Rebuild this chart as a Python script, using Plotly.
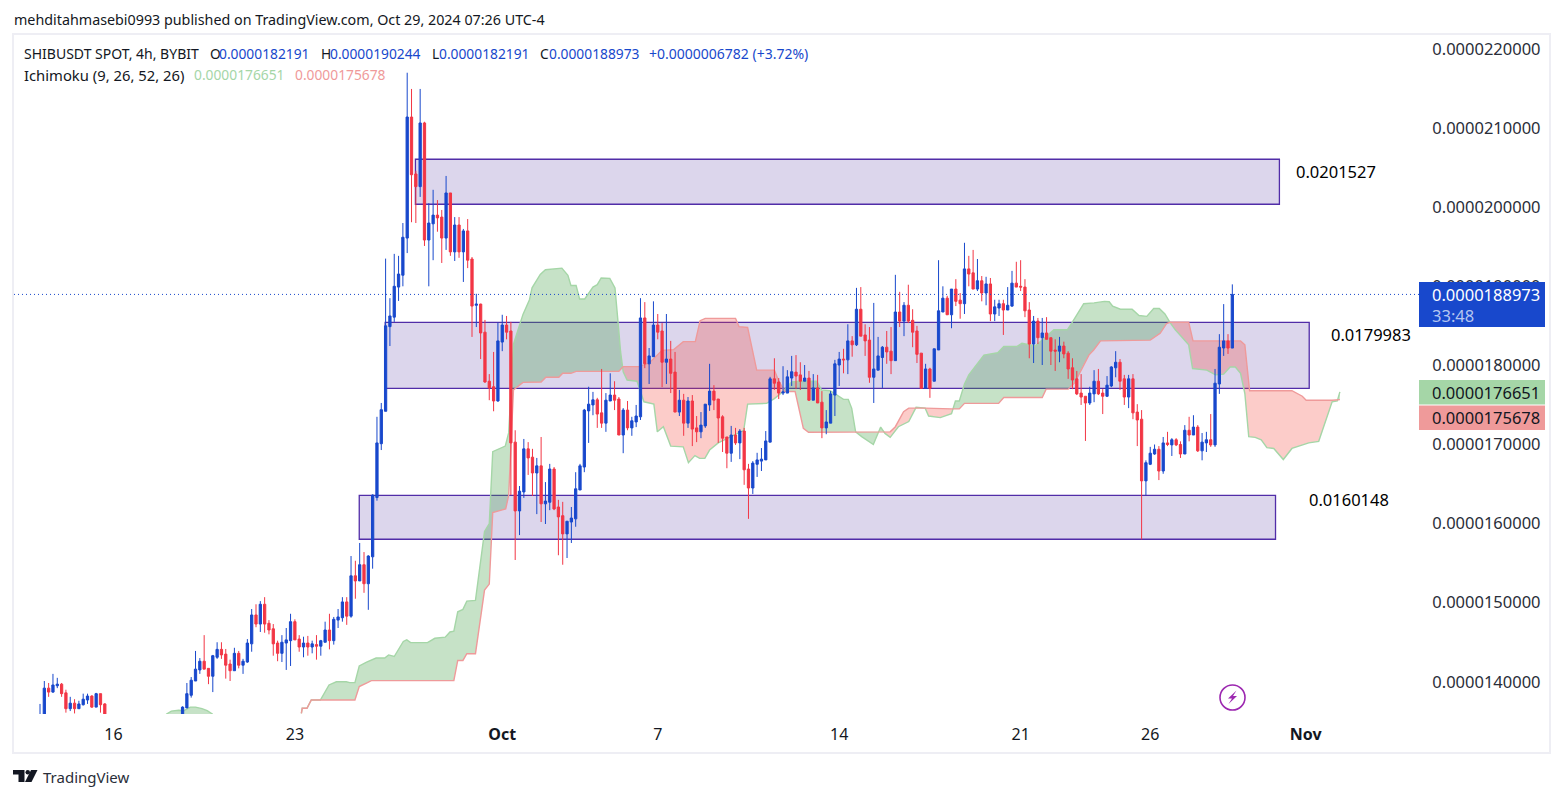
import numpy as np
import plotly.graph_objects as go

# all prices below are in millionths of USDT (18.8973 = 0.0000188973)
hidden = [None] * 17  # these candles sit below the visible price range

candle_open = [13.50, 13.58, 13.92, 13.87, 13.95, 13.97, 13.86, 13.66, 13.73, 13.66, 13.71, 13.77, 13.82, 13.68, 13.85, 13.72] + hidden + [
    13.55, 13.67, 13.83, 14.01, 14.15, 14.26, 14.17, 14.07, 14.31, 14.41,
    14.35, 14.225, 14.14, 14.36, 14.21, 14.25, 14.48, 14.845, 14.73, 14.98,
    14.74, 14.67, 14.49, 14.36, 14.49, 14.52, 14.76, 14.54, 14.44, 14.49,
    14.44, 14.47, 14.45, 14.50, 14.655, 14.52, 14.78, 14.81, 15.01, 14.83,
    15.34, 15.275, 15.48, 15.24, 15.58, 16.33, 17.01, 17.42, 18.49, 18.61,
    18.99, 19.14, 19.61, 21.14, 20.42, 20.26, 21.065, 19.585, 19.79, 19.90,
    19.875, 19.61, 20.18, 19.435, 19.775, 19.435, 19.70, 19.345, 18.76, 18.775,
    18.42, 17.80, 17.73, 17.55, 18.295, 18.51, 18.435, 17.03, 16.16, 16.40,
    16.945, 16.84, 16.64, 16.73, 16.25, 16.27, 16.69, 16.21, 16.10, 15.87,
    16.02, 16.06, 16.425, 16.715, 17.425, 17.50, 17.565, 17.40, 17.27, 17.55,
    17.625, 17.575, 17.12, 17.435, 17.21, 17.285, 17.35, 18.60, 18.02, 18.11,
    18.51, 18.435, 18.04, 18.08, 17.915, 17.41, 17.56, 17.27, 17.55, 17.21,
    17.16, 17.235, 17.50, 17.675, 17.575, 17.35, 17.095, 16.89, 17.12, 17.02,
    17.17, 16.69, 16.45, 16.75, 16.79, 16.805, 17.03, 17.83, 17.79, 17.65,
    17.65, 17.84, 17.915, 17.88, 17.80, 17.84, 17.56, 17.715, 17.535, 17.21,
    17.27, 17.625, 18.005, 18.08, 18.07, 18.31, 18.26, 18.71, 18.385, 18.32,
    17.85, 17.94, 18.10, 18.23, 18.18, 18.06, 18.675, 18.56, 18.76, 18.57,
    18.435, 18.155, 17.71, 17.955, 17.80, 18.195, 18.675, 18.85, 18.64, 18.965,
    18.825, 18.78, 19.22, 19.17, 18.965, 19.07, 18.915, 19.03, 18.65, 18.725,
    18.78, 18.70, 18.75, 19.04, 19.0, 18.99, 18.70, 18.27, 18.56, 18.35,
    18.41, 18.35, 18.195, 18.18, 18.245, 18.155, 17.97, 17.83, 17.65, 17.61,
    17.525, 17.64, 17.80, 17.65, 17.61, 17.74, 17.97, 18.04, 17.83, 17.60,
    17.83, 17.41, 17.32, 16.54, 16.75, 16.88, 16.94, 16.665, 17.02, 16.995,
    17.06, 17.0, 16.88, 17.18, 17.12, 17.22, 16.92, 17.02, 17.06, 16.995,
    17.765, 18.22, 18.31, 18.2191]

candle_high = [13.72, 14.01, 13.985, 14.10, 14.05, 13.985, 13.90, 13.81, 13.78, 13.76, 13.85, 13.85, 13.83, 13.86, 13.85, 13.73] + hidden + [
    13.69, 13.985, 14.06, 14.39, 14.30, 14.59, 14.17, 14.34, 14.50, 14.50,
    14.415, 14.28, 14.43, 14.39, 14.29, 14.54, 14.92, 14.98, 15.02, 15.07,
    14.78, 14.73, 14.52, 14.59, 14.68, 14.86, 14.79, 14.59, 14.57, 14.58,
    14.52, 14.59, 14.53, 14.76, 14.86, 14.82, 14.92, 15.07, 15.07, 15.59,
    15.53, 15.755, 15.64, 15.60, 16.37, 17.35, 17.525, 19.35, 18.85, 19.41,
    19.385, 19.80, 21.70, 21.495, 20.46, 21.495, 21.08, 20.05, 20.22, 20.09,
    19.965, 20.395, 20.18, 19.875, 19.875, 19.725, 19.85, 19.37, 18.905, 18.78,
    18.575, 17.89, 18.17, 18.54, 18.64, 18.625, 18.55, 17.18, 16.475, 17.07,
    17.03, 16.945, 16.83, 17.095, 16.525, 16.755, 16.715, 16.30, 16.275, 16.03,
    16.21, 16.65, 16.755, 17.45, 17.73, 17.665, 17.59, 17.955, 17.65, 17.90,
    17.80, 17.60, 17.46, 17.55, 17.35, 17.50, 18.85, 18.80, 18.22, 18.81,
    18.65, 18.535, 18.65, 18.31, 18.17, 17.69, 17.64, 17.60, 17.625, 17.36,
    17.41, 17.51, 18.02, 17.75, 17.575, 17.37, 17.095, 17.235, 17.21, 17.195,
    17.21, 16.755, 16.79, 16.895, 16.955, 17.17, 17.855, 18.09, 17.84, 17.99,
    17.94, 18.12, 18.13, 18.04, 18.005, 17.93, 17.89, 17.88, 17.675, 17.435,
    17.675, 18.07, 18.17, 18.21, 18.52, 18.37, 18.98, 18.99, 18.52, 18.485,
    18.79, 18.36, 18.245, 18.435, 18.485, 19.145, 18.93, 18.80, 19.02, 18.71,
    18.50, 18.155, 18.02, 17.97, 18.21, 19.33, 19.00, 18.88, 18.965, 19.09,
    18.915, 19.55, 19.385, 19.46, 19.345, 19.13, 19.12, 19.105, 18.83, 18.83,
    18.83, 18.99, 19.195, 19.31, 19.33, 19.09, 18.80, 18.625, 18.60, 18.60,
    18.61, 18.35, 18.33, 18.36, 18.30, 18.18, 18.09, 17.93, 17.89, 17.61,
    17.73, 17.94, 17.955, 17.70, 17.865, 17.99, 18.18, 18.08, 17.88, 17.88,
    17.89, 17.51, 17.435, 16.80, 16.97, 17.0, 16.98, 17.095, 17.16, 17.08,
    17.08, 17.04, 17.245, 17.35, 17.37, 17.245, 17.145, 17.16, 17.385, 17.955,
    18.395, 18.775, 18.395, 19.0244]

candle_low = [13.45, 13.5, 13.81, 13.86, 13.92, 13.81, 13.61, 13.63, 13.60, 13.66, 13.70, 13.72, 13.67, 13.68, 13.61, 13.5] + hidden + [
    13.5, 13.67, 13.80, 14.01, 14.10, 14.16, 13.97, 13.87, 14.29, 14.29,
    14.04, 14.01, 14.14, 14.17, 14.10, 14.24, 14.38, 14.69, 14.63, 14.62,
    14.60, 14.33, 14.26, 14.25, 14.15, 14.20, 14.53, 14.38, 14.31, 14.33,
    14.36, 14.28, 14.33, 14.50, 14.41, 14.47, 14.68, 14.76, 14.72, 14.81,
    15.05, 15.275, 15.125, 14.91, 15.43, 16.29, 16.93, 17.42, 18.245, 18.55,
    18.815, 19.0, 19.42, 19.81, 19.80, 20.13, 19.51, 19.00, 19.33, 19.69,
    19.295, 19.46, 19.385, 19.32, 19.36, 19.055, 19.23, 18.36, 18.485, 18.08,
    17.78, 17.56, 17.42, 17.54, 18.18, 18.33, 16.36, 15.54, 15.855, 16.325,
    16.615, 16.35, 16.12, 16.02, 15.995, 16.17, 16.17, 15.60, 15.48, 15.565,
    15.755, 15.96, 16.425, 16.65, 17.02, 17.37, 17.21, 17.21, 17.16, 17.55,
    17.435, 17.12, 16.89, 17.18, 17.11, 17.22, 17.31, 17.965, 17.765, 18.11,
    18.33, 17.725, 17.765, 17.65, 17.41, 17.36, 17.11, 17.21, 16.98, 17.03,
    17.08, 17.21, 17.425, 17.435, 17.02, 16.905, 16.70, 16.78, 16.995, 16.815,
    16.49, 16.06, 16.375, 16.59, 16.665, 16.805, 17.03, 17.69, 17.575, 17.625,
    17.65, 17.74, 17.70, 17.69, 17.80, 17.55, 17.56, 17.525, 17.08, 17.13,
    17.27, 17.36, 17.74, 17.90, 17.89, 18.11, 18.245, 18.37, 18.12, 17.78,
    17.525, 17.94, 17.715, 18.02, 17.89, 18.06, 18.485, 18.37, 18.535, 18.23,
    18.03, 17.71, 17.71, 17.59, 17.80, 18.195, 18.675, 18.64, 18.47, 18.75,
    18.59, 18.65, 19.0, 18.965, 18.94, 18.81, 18.76, 18.56, 18.56, 18.625,
    18.385, 18.70, 18.74, 18.99, 18.94, 18.61, 18.09, 18.03, 18.27, 18.005,
    18.33, 18.005, 17.93, 18.04, 18.09, 17.83, 17.70, 17.625, 17.50, 17.045,
    17.50, 17.535, 17.625, 17.385, 17.60, 17.725, 17.85, 17.69, 17.50, 17.46,
    17.32, 16.98, 15.80, 16.36, 16.74, 16.87, 16.55, 16.63, 16.98, 16.855,
    16.98, 16.83, 16.88, 17.04, 17.12, 16.905, 16.80, 16.905, 16.97, 16.97,
    17.64, 18.12, 18.145, 18.2191]

candle_close = [13.58, 13.92, 13.87, 13.96, 13.97, 13.85, 13.66, 13.73, 13.66, 13.72, 13.78, 13.82, 13.68, 13.85, 13.71, 13.55] + hidden + [
    13.68, 13.85, 14.02, 14.16, 14.26, 14.16, 14.07, 14.33, 14.41, 14.34,
    14.21, 14.14, 14.36, 14.21, 14.26, 14.49, 14.845, 14.73, 14.98, 14.73,
    14.655, 14.48, 14.36, 14.50, 14.53, 14.76, 14.53, 14.44, 14.49, 14.44,
    14.48, 14.45, 14.52, 14.655, 14.52, 14.79, 14.82, 15.01, 14.83, 15.34,
    15.275, 15.48, 15.24, 15.59, 16.36, 17.02, 17.44, 18.50, 18.625, 19.0,
    19.155, 19.62, 21.14, 20.41, 20.26, 21.065, 19.585, 19.80, 19.90, 19.865,
    19.61, 20.18, 19.435, 19.775, 19.435, 19.70, 19.33, 18.75, 18.775, 18.41,
    17.79, 17.715, 17.55, 18.31, 18.51, 18.42, 17.02, 16.16, 16.41, 16.945,
    16.83, 16.64, 16.73, 16.25, 16.285, 16.69, 16.185, 16.085, 15.87, 16.03,
    16.07, 16.44, 16.73, 17.435, 17.51, 17.565, 17.385, 17.27, 17.56, 17.625,
    17.56, 17.12, 17.435, 17.21, 17.30, 17.36, 18.60, 18.02, 18.12, 18.51,
    18.42, 18.04, 18.08, 17.90, 17.41, 17.56, 17.27, 17.55, 17.195, 17.16,
    17.245, 17.51, 17.675, 17.56, 17.335, 17.08, 16.89, 17.12, 17.02, 17.17,
    16.68, 16.45, 16.765, 16.805, 16.815, 17.045, 17.83, 17.775, 17.65, 17.665,
    17.855, 17.92, 17.865, 17.80, 17.84, 17.56, 17.715, 17.525, 17.21, 17.285,
    17.64, 18.02, 18.08, 18.07, 18.31, 18.26, 18.71, 18.37, 18.31, 17.85,
    17.955, 18.12, 18.23, 18.17, 18.06, 18.675, 18.56, 18.76, 18.56, 18.42,
    18.14, 17.71, 17.955, 17.71, 18.21, 18.69, 18.85, 18.64, 18.965, 18.81,
    18.78, 19.22, 19.155, 18.965, 19.07, 18.915, 19.03, 18.65, 18.74, 18.78,
    18.70, 18.76, 19.04, 18.99, 18.99, 18.69, 18.27, 18.56, 18.35, 18.41,
    18.33, 18.18, 18.18, 18.245, 18.145, 17.955, 17.815, 17.64, 17.60, 17.525,
    17.65, 17.80, 17.64, 17.61, 17.75, 17.98, 18.04, 17.80, 17.60, 17.83,
    17.40, 17.31, 16.54, 16.77, 16.89, 16.94, 16.665, 17.02, 17.0, 17.06,
    16.995, 16.88, 17.18, 17.12, 17.22, 16.92, 17.03, 17.06, 16.995, 17.775,
    18.23, 18.31, 18.2191, 18.8973]

# ichimoku spans, read at the corners of each line (bar number, price)
early_a_bar = [29.2, 30.4, 32.1, 33.3, 34.8, 36.0, 37.5, 38.7, 40.0]
early_a = [13.59, 13.63, 13.64, 13.635, 13.68, 13.68, 13.66, 13.635, 13.59]
early_b_bar = [29.2, 40.0]
early_b = [13.3, 13.3]  # below the visible range

span_a_bar = [60.5, 60.7, 61.8, 62.8, 64.9, 66.9, 68.6, 70.9, 71.7, 72.9, 73.9, 75.6, 77.8, 79.8, 80.7, 82.0, 84.1, 84.9, 85.8, 89.7,
              91.4, 93.8, 94.9, 95.8, 96.7, 97.9, 98.8, 100.8, 102.9, 104.0, 104.8, 107.7, 108.5, 109.6, 111.8, 113.3, 113.9, 115.8, 117.0, 120.8,
              122.2, 122.9, 124.1, 124.9, 126.1, 128.0, 129.0, 129.9, 131.9, 133.1, 133.8, 134.4, 135.0, 135.9, 138.2, 139.8, 142.1, 142.9, 144.3, 146.0,
              148.9, 150.1, 151.6, 152.7, 153.9, 155.0, 157.0, 161.2, 162.9, 163.8, 168.2, 170.0, 171.6, 174.0, 175.9, 179.8, 180.9, 182.9, 186.0, 187.1,
              187.9, 188.8, 190.2, 192.9, 194.6, 195.6, 196.8, 198.7, 201.1, 202.8, 204.9, 205.7, 208.4, 211.0, 211.9, 212.8, 214.0, 215.0, 218.5, 221.7,
              223.1, 226.2, 227.3, 230.4, 234.7, 237.8, 238.9, 241.6, 244.0, 246.4, 247.5, 248.3, 250.1, 252.8, 254.4, 256.2, 257.8, 259.1, 260.4, 261.6,
              262.8, 264.3, 265.9, 266.8, 270.1, 272.1, 274.0, 275.5, 276.7, 277.9, 278.9, 279.8, 281.3, 282.7, 284.0, 285.6, 287.8, 289.8, 293.7, 296.0,
              298.4, 299.1, 300.3, 300.9]
span_a = [13.60, 13.665, 13.665, 13.77, 13.77, 13.96, 14.0, 14.0, 13.99, 13.99, 14.2, 14.25, 14.3, 14.3, 14.34, 14.32, 14.51, 14.53, 14.495, 14.495,
          14.55, 14.565, 14.63, 14.64, 14.885, 14.915, 15.02, 15.03, 15.90, 16.0, 16.91, 16.98, 17.15, 18.27, 18.645, 18.83, 18.98, 19.15, 19.21, 19.23,
          19.14, 19.01, 19.01, 18.84, 18.84, 18.99, 19.02, 19.105, 19.10, 18.98, 18.55, 18.17, 17.92, 17.815, 17.80, 17.54, 17.51, 17.16, 17.225, 16.98,
          16.97, 16.77, 16.86, 16.825, 16.825, 16.93, 17.02, 17.14, 17.18, 17.51, 17.52, 17.58, 17.65, 17.79, 17.80, 17.80, 17.69, 17.68, 17.57, 17.57,
          17.457, 17.16, 17.10, 17.0, 17.22, 17.14, 17.09, 17.225, 17.29, 17.47, 17.46, 17.36, 17.34, 17.39, 17.55, 17.55, 17.765, 17.88, 18.13, 18.16,
          18.24, 18.24, 18.28, 18.245, 18.45, 18.45, 18.54, 18.78, 18.79, 18.81, 18.805, 18.75, 18.71, 18.71, 18.63, 18.62, 18.72, 18.72, 18.65, 18.54,
          18.45, 18.36, 18.26, 17.96, 17.94, 17.88, 17.89, 17.98, 17.98, 17.90, 17.645, 17.10, 17.09, 17.06, 16.96, 16.95, 16.81, 16.95, 17.02, 17.04,
          17.415, 17.54, 17.55, 17.6651]

span_b_bar = [60.5, 60.7, 61.8, 62.8, 72.9, 73.9, 75.8, 76.7, 95.8, 96.7, 97.9, 98.8, 100.8, 102.9, 104.0, 104.8, 106.8, 107.8, 108.5, 109.6,
              111.8, 116.0, 117.1, 120.1, 121.0, 122.9, 124.1, 134.0, 135.0, 138.6, 140.9, 144.0, 146.7, 148.9, 151.7, 152.8, 154.0, 161.0, 161.8, 163.8,
              165.9, 170.0, 170.9, 172.4, 174.8, 176.7, 177.9, 188.8, 196.8, 198.0, 199.9, 201.1, 204.9, 211.0, 212.8, 214.0, 221.9, 223.1, 232.0, 232.9,
              238.0, 239.5, 241.3, 242.8, 243.9, 245.5, 257.0, 259.3, 260.8, 261.6, 265.9, 266.9, 277.9, 278.9, 280.0, 289.8, 292.2, 293.1, 299.1, 300.9]
span_b = [13.60, 13.665, 13.665, 13.77, 13.77, 13.94, 13.99, 14.015, 14.015, 14.27, 14.27, 14.355, 14.355, 15.16, 15.235, 16.14, 16.17, 16.185, 16.36, 17.69,
          17.785, 17.79, 17.85, 17.85, 17.90, 17.90, 17.925, 17.925, 17.985, 17.985, 18.025, 18.19, 18.20, 18.30, 18.30, 18.565, 18.595, 18.595, 18.49, 18.48,
          17.94, 17.94, 17.815, 17.67, 17.67, 17.205, 17.155, 17.16, 17.16, 17.225, 17.415, 17.46, 17.46, 17.45, 17.45, 17.52, 17.52, 17.595, 17.595, 17.70,
          17.70, 17.78, 17.98, 18.13, 18.195, 18.31, 18.32, 18.405, 18.53, 18.545, 18.545, 18.31, 18.31, 18.26, 17.68, 17.68, 17.61, 17.56, 17.56, 17.5678]

# drawn zones: first bar, last bar, low, high, label
zone_start = [86.9, 79.9, 73.9]
zone_end = [286.9, 293.8, 286.0]
zone_low = [20.037, 17.71, 15.802]
zone_high = [20.606, 18.545, 16.358]
zone_labels = ["0.0201527", "0.0179983", "0.0160148"]

price_ticks = [14, 15, 16, 17, 18, 19, 20, 21, 22]
price_tick_labels = ["0.0000140000", "0.0000150000", "0.0000160000", "0.0000170000", "0.0000180000",
                     "0.0000190000", "0.0000200000", "0.0000210000", "0.0000220000"]
date_ticks = [17, 59, 107, 143, 185, 227, 257, 293]
date_tick_labels = ["16", "23", "<b>Oct</b>", "7", "14", "21", "26", "<b>Nov</b>"]

last_price = 18.8973
last_price_label = "0.0000188973"
countdown = "33:48"
span_a_label = "0.0000176651"
span_b_label = "0.0000175678"

BLUE = "#1848CC"
RED = "#F23645"
DARK = "#131722"
FONT = "Noto Sans"

# pixel layout of the page
W, H = 1563, 798
L, R, T, B = 14, 144, 36, 84
BAR0_PX, BAR_PX = 40, 4.32
PX_PER_UNIT = 79.1


def px(x):
    return (x - L) / (W - L - R)


def py(y):
    return 1 - (y - T) / (H - T - B)


def label(x, y, text, color=DARK, size=13.8, anchor="left"):
    return dict(xref="paper", yref="paper", x=px(x), y=py(y), text=text, showarrow=False,
                xanchor=anchor, yanchor="middle", borderpad=0, align="left",
                font=dict(family=FONT, size=size, color=color))


def box(x0, y0, x1, y1, fill, line=None, width=0):
    return dict(type="rect", xref="paper", yref="paper", x0=px(x0), x1=px(x1), y0=py(y0), y1=py(y1),
                fillcolor=fill, line=dict(color=line, width=width), layer="above")


def path(points, fill=None, line=None, width=0):
    d = "M " + " L ".join(f"{px(a)} {py(b)}" for a, b in points) + " Z"
    return dict(type="path", xref="paper", yref="paper", path=d, fillcolor=fill or "rgba(0,0,0,0)",
                line=dict(color=line or "rgba(0,0,0,0)", width=width), layer="above")


def cloud(a_bar, a, b_bar, b):
    # split the area between the spans where they cross, green if A on top
    grid = sorted(set(a_bar) | set(b_bar))
    av = np.interp(grid, a_bar, a)
    bv = np.interp(grid, b_bar, b)
    diff = av - bv
    pieces = []
    xs, ta, tb = [grid[0]], [av[0]], [bv[0]]
    for k in range(len(grid) - 1):
        if diff[k] * diff[k + 1] < 0:
            t = diff[k] / (diff[k] - diff[k + 1])
            xc = grid[k] + t * (grid[k + 1] - grid[k])
            yc = av[k] + t * (av[k + 1] - av[k])
            xs.append(xc), ta.append(yc), tb.append(yc)
            pieces.append((xs, ta, tb))
            xs, ta, tb = [xc], [yc], [yc]
        xs.append(grid[k + 1]), ta.append(av[k + 1]), tb.append(bv[k + 1])
    pieces.append((xs, ta, tb))
    traces = []
    for xs, ta, tb in pieces:
        up = sum(ta) >= sum(tb)
        traces.append(go.Scatter(x=xs + xs[::-1], y=ta + tb[::-1], mode="none", fill="toself",
                                 fillcolor="rgba(67,160,71,0.3)" if up else "rgba(244,67,54,0.27)",
                                 hoverinfo="skip", showlegend=False))
    return traces


fig = go.Figure()

for t in cloud(early_a_bar, early_a, early_b_bar, early_b) + cloud(span_a_bar, span_a, span_b_bar, span_b):
    fig.add_trace(t)
for xs, ys, color in [(early_a_bar, early_a, "#A5D6A7"), (span_a_bar, span_a, "#A5D6A7"), (span_b_bar, span_b, "#EF9A9A")]:
    fig.add_trace(go.Scatter(x=xs, y=ys, mode="lines", line=dict(color=color, width=1.4),
                             hoverinfo="skip", showlegend=False))

# on the overlaid y axis, otherwise plotly draws the cloud over the candles
fig.add_trace(go.Candlestick(
    x=list(range(len(candle_open))), open=candle_open, high=candle_high, low=candle_low, close=candle_close,
    yaxis="y2", whiskerwidth=0, showlegend=False, hoverinfo="skip",
    increasing=dict(line=dict(color=BLUE, width=1), fillcolor=BLUE),
    decreasing=dict(line=dict(color=RED, width=1), fillcolor=RED),
))

bottom = 22 - (H - B - 49) / PX_PER_UNIT
top = 22 + (49 - T) / PX_PER_UNIT
bar_left = (L - BAR0_PX) / BAR_PX
bar_right = (W - R - BAR0_PX) / BAR_PX

shapes = []
for x0, x1, lo, hi in zip(zone_start, zone_end, zone_low, zone_high):
    shapes.append(dict(type="rect", xref="x", yref="y", x0=x0, x1=x1, y0=lo, y1=hi, layer="below",
                       fillcolor="#DCD6EC", line=dict(color="#512DA8", width=1.3)))
shapes.append(dict(type="line", xref="paper", yref="y", x0=0, x1=1, y0=last_price, y1=last_price, layer="above",
                   line=dict(color=BLUE, width=1, dash="1px,3px")))

# outer frame and the price tags
shapes.append(dict(type="rect", xref="paper", yref="paper", x0=px(13), x1=px(1550), y0=py(34), y1=py(753),
                   line=dict(color="#EEEEF4", width=2), layer="above"))
shapes.append(box(1419, 282, 1545, 327, BLUE))
shapes.append(box(1419, 380, 1545, 404.5, "#A5D6A7"))
shapes.append(box(1419, 405.5, 1545, 430, "#EF9A9A"))

# lightning badge
shapes.append(dict(type="circle", xref="paper", yref="paper", x0=px(1220), x1=px(1245), y0=py(685), y1=py(710),
                   line=dict(color="#9C27B0", width=1.6), fillcolor="#FFFFFF", layer="above"))
shapes.append(path([(1236.5, 690.5), (1228, 698.5), (1232, 698.5), (1228.5, 704), (1237, 696), (1233, 696)], fill="#9C27B0"))

# TradingView mark
shapes.append(path([(13, 770), (24.5, 770), (24.5, 782), (18.5, 782), (18.5, 774.5), (13, 774.5)], fill=DARK))
shapes.append(dict(type="circle", xref="paper", yref="paper", x0=px(25.5), x1=px(30), y0=py(770), y1=py(774.5),
                   fillcolor=DARK, line=dict(width=0), layer="above"))
shapes.append(path([(31, 770), (37.5, 770), (31.5, 782), (25, 782)], fill=DARK))

annotations = [
    label(13, 19.5, "mehditahmasebi0993 published on TradingView.com, Oct 29, 2024 07:26 UTC-4", size=14.3),
    label(23, 53.5, "SHIBUSDT SPOT, 4h, BYBIT", size=14),
    label(209, 53.5, "O"), label(218, 53.5, "0.0000182191", BLUE),
    label(320, 53.5, "H"), label(329, 53.5, "0.0000190244", BLUE),
    label(431, 53.5, "L"), label(438, 53.5, "0.0000182191", BLUE),
    label(539, 53.5, "C"), label(548, 53.5, "0.0000188973", BLUE),
    label(648, 53.5, "+0.0000006782 (+3.72%)", BLUE, 14),
    label(23, 74.5, "Ichimoku (9, 26, 52, 26)", size=14.8),
    label(193, 74.5, span_a_label, "#A5D6A7"),
    label(294, 74.5, span_b_label, "#EF9A9A"),
    label(1430.5, 304.5, last_price_label + "<br><span style='color:#B4C5F0'>" + countdown + "</span>", "#FFFFFF", 16.5),
    label(1430.5, 392.5, span_a_label, DARK, 16.5),
    label(1430.5, 417.5, span_b_label, DARK, 16.5),
    label(42, 777, "TradingView", "#2A2E39", 15),
]
for x, y, text in zip([1295, 1330, 1308], [171.5, 334.5, 499.5], zone_labels):
    annotations.append(label(x, y, text, "#000000", 16.5))

fig.update_layout(
    width=W, height=H, autosize=False,
    margin=dict(l=L, r=R, t=T, b=B, pad=0),
    paper_bgcolor="#FFFFFF", plot_bgcolor="#FFFFFF",
    showlegend=False, dragmode=False, boxgap=0.25,
    shapes=shapes, annotations=annotations,
    font=dict(family=FONT, color=DARK),
    xaxis=dict(range=[bar_left, bar_right], rangeslider=dict(visible=False), showgrid=False, zeroline=False,
               showline=False, tickmode="array", tickvals=date_ticks, ticktext=date_tick_labels,
               ticks="outside", ticklen=6, tickcolor="rgba(0,0,0,0)", tickangle=0,
               tickfont=dict(family=FONT, size=16, color=DARK)),
    yaxis=dict(range=[bottom, top], side="right", showgrid=False, zeroline=False, showline=False,
               tickmode="array", tickvals=price_ticks, ticktext=price_tick_labels,
               ticks="outside", ticklen=9, tickcolor="rgba(0,0,0,0)",
               tickfont=dict(family=FONT, size=16.5, color="#2A2E39")),
    yaxis2=dict(range=[bottom, top], overlaying="y", side="right", visible=False),
)

fig.write_html("out.html", config=dict(displayModeBar=False, staticPlot=True),
               post_script="document.body.style.margin='0';")
